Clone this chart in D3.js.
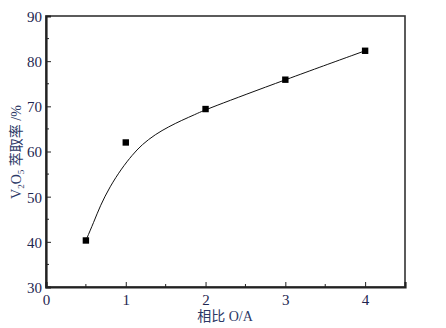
<!DOCTYPE html>
<html><head><meta charset="utf-8">
<script src="https://cdn.jsdelivr.net/npm/d3@7"></script>
<style>body{margin:0;background:#fff}svg{display:block}</style>
</head><body>
<svg id="c" width="446" height="328"></svg>
<script>
const ratioX = [0.5, 1, 2, 3, 4];
const extraction = [40.3, 62.0, 69.4, 75.9, 82.3];
const fitX = [0.5, 0.6, 0.68, 0.8, 0.95, 1.08, 1.2, 1.37, 1.54, 1.7, 1.87, 2.0, 3.0, 4.0];
const fitY = [40.3, 44.4, 48.0, 52.2, 56.3, 59.2, 61.5, 63.8, 65.5, 66.9, 68.2, 69.3, 75.9, 82.3];
const xTicks = [0, 1, 2, 3, 4];
const yTicks = [30, 40, 50, 60, 70, 80, 90];
const xMinor = [0.5, 1.5, 2.5, 3.5];
const yMinor = [35, 45, 55, 65, 75, 85];

const svg = d3.select("#c");
const L = 46, R = 405, T = 16, B = 287;
const x = d3.scaleLinear().domain([0, 4.5]).range([L, R]);
const y = d3.scaleLinear().domain([30, 90]).range([B, T]);
const axisCol = "#222", txtCol = "#1e2650", titleCol = "#2c3866";

svg.append("rect").attr("x", L).attr("y", T).attr("width", R - L).attr("height", B - T)
  .attr("fill", "none").attr("stroke", "#333").attr("stroke-width", 1.6);

const gx = svg.append("g").attr("transform", `translate(0,${B})`)
  .call(d3.axisBottom(x).tickValues(xTicks).tickSize(-5).tickPadding(9).tickFormat(d3.format("d")));
const gy = svg.append("g").attr("transform", `translate(${L},0)`)
  .call(d3.axisLeft(y).tickValues(yTicks).tickSize(-5).tickPadding(4).tickFormat(d3.format("d")));
[gx, gy].forEach(g => {
  g.select(".domain").attr("stroke", axisCol).attr("stroke-width", 2.2);
  g.selectAll(".tick line").attr("stroke", axisCol).attr("stroke-width", 1);
  g.selectAll(".tick text").attr("fill", txtCol).style("font-family", "'Liberation Serif', serif").style("font-size", "15px");
});
gx.selectAll(".tick text").attr("dy", "0.62em");
gy.selectAll(".tick text").attr("dy", "0.36em");
gx.append("g").selectAll("line").data(xMinor).join("line")
  .attr("x1", d => x(d)).attr("x2", d => x(d)).attr("y1", 0).attr("y2", -3)
  .attr("stroke", axisCol);
gy.append("g").selectAll("line").data(yMinor).join("line")
  .attr("y1", d => y(d)).attr("y2", d => y(d)).attr("x1", 0).attr("x2", 3)
  .attr("stroke", axisCol);

const fit = fitX.map((v, i) => [v, fitY[i]]);
svg.append("path").datum(fit)
  .attr("d", d3.line().x(d => x(d[0])).y(d => y(d[1])).curve(d3.curveBasis))
  .attr("fill", "none").attr("stroke", "#111").attr("stroke-width", 1);

svg.append("g").selectAll("rect").data(ratioX.map((v, i) => [v, extraction[i]])).join("rect")
  .attr("x", d => x(d[0]) - 3.2).attr("y", d => y(d[1]) - 3.2)
  .attr("width", 6.4).attr("height", 6.4).attr("fill", "#000");

svg.append("text").attr("x", 225).attr("y", 321).attr("text-anchor", "middle")
  .attr("fill", titleCol).style("font-family", "'Liberation Serif', 'Noto Sans CJK SC', serif").style("font-size", "14px")
  .text("相比 O/A");

const yl = svg.append("text").attr("transform", "translate(21,152) rotate(-90)").attr("text-anchor", "middle")
  .attr("fill", titleCol).style("font-family", "'Liberation Serif', 'Noto Sans CJK SC', serif").style("font-size", "14px");
yl.append("tspan").text("V");
yl.append("tspan").attr("dy", 3).style("font-size", "9px").text("2");
yl.append("tspan").attr("dy", -3).text("O");
yl.append("tspan").attr("dy", 3).style("font-size", "9px").text("5");
yl.append("tspan").attr("dy", -3).text(" 萃取率 /%");
</script>
</body></html>
